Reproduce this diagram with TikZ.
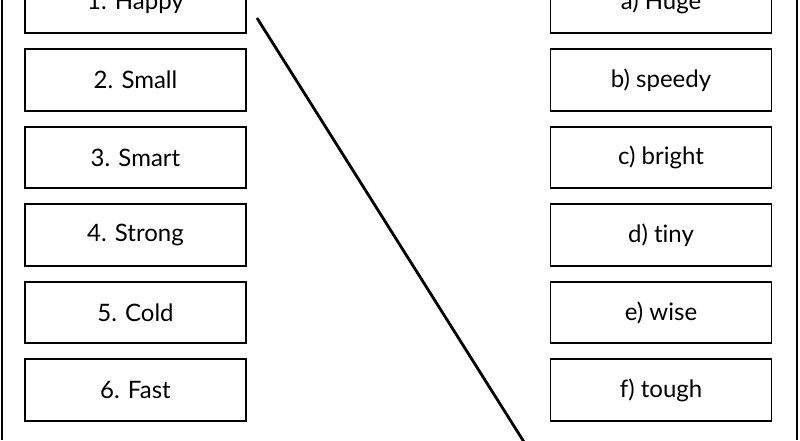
\documentclass[tikz,border=0pt]{standalone}
\usepackage{fontspec}
\setmainfont{Lato}[Ligatures=NoCommon]
\usetikzlibrary{positioning}

\tikzset{
  word/.style={draw,line width=1.6pt,minimum width=221pt,minimum height=61.5pt,
    font=\fontsize{24}{28}\selectfont,inner sep=0pt},
}

\begin{document}
\begin{tikzpicture}[x=1pt,y=-1pt]
    \useasboundingbox (0,0) rectangle (800,440);
    % side rules
    \draw [line width=2.5pt] (2,0) -- (2,440);
    \draw [line width=2.5pt] (797,0) -- (797,440);
    % left column
    \node [word] (w1) at (135.5,2.5) {1. Happy};
    \node [word,below=14.4pt of w1] (w2) {2. Small};
    \node [word,below=14.4pt of w2] (w3) {3. Smart};
    \node [word,below=14.4pt of w3] (w4) {4. Strong};
    \node [word,below=14.4pt of w4] (w5) {5. Cold};
    \node [word,below=14.4pt of w5] (w6) {6. Fast};
    % right column
    \node [word] (ma) at (661,2.5) {a) Huge};
    \node [word,below=14.4pt of ma] (mb) {b) speedy};
    \node [word,below=14.4pt of mb] (mc) {c) bright};
    \node [word,below=14.4pt of mc] (md) {d) tiny};
    \node [word,below=14.4pt of md] (me) {e) wise};
    \node [word,below=14.4pt of me] (mf) {f) tough};
    % matching line
    \coordinate (start) at (257,18);
    \coordinate (stop) at (524,442);
    \draw [line width=2.8pt] (start) -- (stop);
\end{tikzpicture}
\end{document}
